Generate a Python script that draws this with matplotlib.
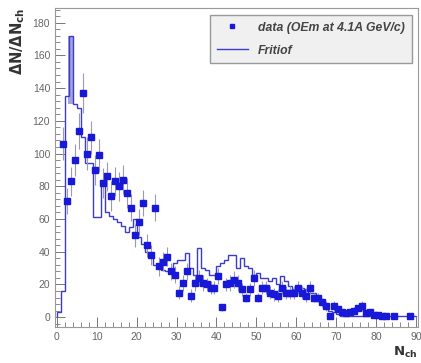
import matplotlib
matplotlib.use("Agg")
import matplotlib.pyplot as plt
from matplotlib.ticker import MultipleLocator
from matplotlib.lines import Line2D
import numpy as np

# measured multiplicity distribution (bin centres, counts, errors)
n_ch = [1.5, 2.5, 3.5, 4.5, 5.5, 6.5, 7.5, 8.5, 9.5, 10.5,
        11.5, 12.5, 13.5, 14.5, 15.5, 16.5, 17.5, 18.5, 19.5, 20.5,
        21.5, 22.5, 23.5, 24.5, 25.5, 26.5, 27.5, 28.5, 29.5, 30.5,
        31.5, 32.5, 33.5, 34.5, 35.5, 36.5, 37.5, 38.5, 39.5, 40.5,
        41.5, 42.5, 43.5, 44.5, 45.5, 46.5, 47.5, 48.5, 49.5, 50.5,
        51.5, 52.5, 53.5, 54.5, 55.5, 56.5, 57.5, 58.5, 59.5, 60.5,
        61.5, 62.5, 63.5, 64.5, 65.5, 66.5, 67.5, 68.5, 69.5, 70.5,
        71.5, 72.5, 73.5, 74.5, 75.5, 76.5, 77.5, 78.5, 79.5, 80.5,
        81.5, 82.5, 84.5, 88.5]
counts = [106, 71, 83, 96, 114, 137, 100, 110, 90, 99,
          82, 86, 74, 83, 80, 84, 76, 67, 50, 58,
          70, 44, 38, 67, 31, 34, 37, 28, 26, 15,
          21, 28, 13, 21, 24, 21, 20, 18, 18, 25,
          6, 20, 21, 23, 21, 17, 12, 17, 24, 12,
          18, 18, 15, 14, 13, 18, 15, 15, 15, 18,
          15, 13, 18, 12, 12, 9, 7, 1, 7, 5,
          3, 2.5, 3, 4, 5.5, 7, 2.5, 3, 1.5, 1.5,
          1, 0.5, 1, 0.5]
errors = [10, 8, 9, 10, 11, 12, 10, 10, 9, 10,
          9, 9, 9, 9, 9, 9, 9, 8, 7, 8,
          8, 7, 6, 8, 6, 6, 6, 5, 5, 4,
          5, 5, 4, 5, 5, 5, 4, 4, 4, 5,
          2, 4, 5, 5, 5, 4, 3, 4, 5, 3,
          4, 4, 4, 4, 4, 4, 4, 4, 4, 4,
          4, 4, 4, 3, 3, 3, 3, 1, 3, 2,
          2, 2, 2, 2, 2, 3, 2, 2, 1, 1,
          1, 1, 1, 1]

# Fritiof prediction, unit-width bins starting at 0
fritiof = [3, 16, 135, 172, 130, 128, 110, 94, 94, 61,
           61, 82, 64, 62, 60, 58, 56, 52, 55, 60,
           49, 45, 40, 37, 32, 30, 29, 28, 27, 33,
           35, 35, 39, 30, 26, 42, 30, 29, 26, 26,
           31, 33, 35, 38, 38, 30, 36, 31, 30, 26,
           27, 24, 24, 22, 24, 20, 25, 22, 19, 17,
           17, 18, 17, 15, 15, 13, 9, 7, 4, 3,
           2, 1, 1, 1, 1, 1, 1, 1, 1, 1,
           1, 1, 1, 1, 1, 1, 1, 1, 1, 1]
edges = np.arange(len(fritiof) + 1)

plt.rcParams["font.family"] = ["Liberation Sans", "DejaVu Sans"]
plt.rcParams["mathtext.fontset"] = "dejavusans"

fig = plt.figure(figsize=(4.21, 3.63), dpi=100)
ax = fig.add_axes([0.1306, 0.0992, 0.862, 0.879])

# generator histogram, with the peak bin shaded
ax.stairs(fritiof, edges, color="#3c3cc8", lw=1.0, zorder=2)
ax.fill_between([edges[3] - 0.2, edges[4] + 0.2], fritiof[2] - 5, fritiof[3],
                color="#a4a4dc", lw=0, zorder=1)

# data points
ax.errorbar(n_ch, counts, yerr=errors, fmt="s", color="#1818d8",
            ecolor="#9a9ab8", elinewidth=0.8, markersize=5,
            capsize=0, zorder=3)

ax.set_xlim(-0.5, 90.5)
ax.set_ylim(-6, 189)
ax.xaxis.set_major_locator(MultipleLocator(10))
ax.xaxis.set_minor_locator(MultipleLocator(2))
ax.yaxis.set_major_locator(MultipleLocator(20))
ax.yaxis.set_minor_locator(MultipleLocator(4))
ax.tick_params(which="both", direction="in", colors="#777777",
               labelcolor="#666666", labelsize=7.5, top=False, right=False)
ax.tick_params(which="major", length=7, width=0.7)
ax.tick_params(which="minor", length=3.5, width=0.6)
for s in ax.spines.values():
    s.set_color("#999999")
    s.set_linewidth(0.8)

ax.set_ylabel(r"$\mathbf{\Delta N/\Delta N}_{\mathbf{ch}}$", loc="top",
              fontsize=10.5, color="#333333", labelpad=4)
ax.set_xlabel(r"$\mathbf{N}_{\mathbf{ch}}$", loc="right",
              fontsize=9.5, color="#333333", labelpad=2)

handles = [
    Line2D([], [], ls="none", marker="s", color="#1818d8", markersize=3),
    Line2D([], [], color="#3c3cc8", lw=1.0),
]
leg = ax.legend(handles, ["data (OEm at 4.1A GeV/c)", "Fritiof"],
                loc="upper right", bbox_to_anchor=(0.983, 0.978),
                borderaxespad=0, fancybox=False, framealpha=1,
                facecolor="#f0f0f0", edgecolor="#999999",
                prop={"style": "italic", "weight": "bold", "size": 8.8},
                handlelength=2.6, handletextpad=0.8, labelspacing=0.9,
                borderpad=0.55)
for t in leg.get_texts():
    t.set_color("#444444")

fig.savefig("out.png", dpi=100)
